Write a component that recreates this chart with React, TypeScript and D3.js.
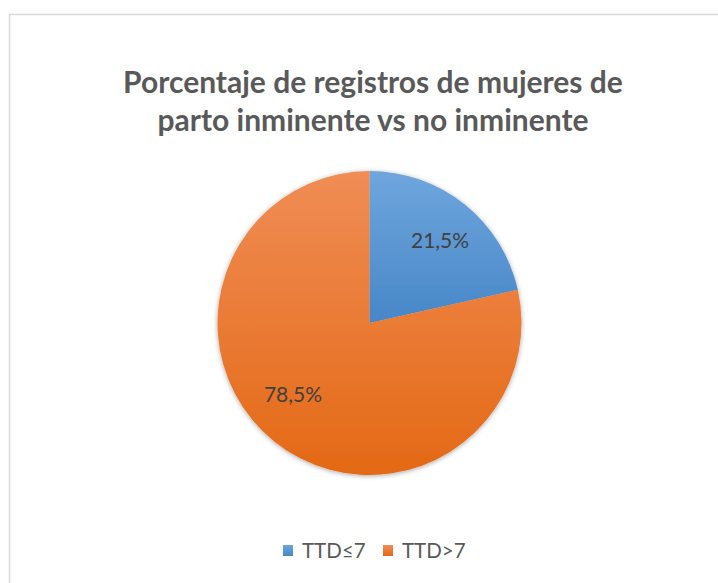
import React from "react";
import * as d3 from "d3";

const categories = ["TTD≤7", "TTD>7"];
const values = [21.5, 78.5];
const labels = ["21,5%", "78,5%"];
const colorsTop = ["#6fa6dd", "#f08d55"];
const colorsBottom = ["#4787c8", "#e46915"];
const titleLines = ["Porcentaje de registros de mujeres de", "parto inminente vs no inminente"];

export default function App() {
  const W = 718, H = 583;
  const cx = 369.5, cy = 323, r = 152;
  const pie = d3.pie<number>().sort(null).value((d) => d)(values);
  const arc = d3.arc<d3.PieArcDatum<number>>().innerRadius(0).outerRadius(r);
  const labelArc = d3.arc<d3.PieArcDatum<number>>().innerRadius(r * 1.4).outerRadius(0);
  const font = "Lato, 'Open Sans', sans-serif";
  const legendX = [283, 383];
  const labelOffsets = [[4, 3], [-10, -9]];
  return (
    <svg width={W} height={H} style={{ position: "absolute", left: 0, top: 0, background: "#fff" }}>
      <defs>
        {categories.map((c, i) => (
          <linearGradient key={c} id={`g${i}`} x1="0" y1="0" x2="0" y2="1">
            <stop offset="0" stopColor={colorsTop[i]} />
            <stop offset="1" stopColor={colorsBottom[i]} />
          </linearGradient>
        ))}
        <filter id="sh" x="-20%" y="-20%" width="140%" height="140%">
          <feGaussianBlur in="SourceAlpha" stdDeviation="2.5" />
          <feOffset dx="0" dy="1" result="b" />
          <feComponentTransfer><feFuncA type="linear" slope="0.35" /></feComponentTransfer>
          <feMerge><feMergeNode /><feMergeNode in="SourceGraphic" /></feMerge>
        </filter>
      </defs>
      <rect x={9.5} y={14.5} width={720} height={600} fill="#fff" stroke="#d9d9d9" strokeWidth={1.5} />
      {titleLines.map((t, i) => (
        <text key={i} x={373} y={93 + i * 38} textAnchor="middle" fontFamily={font} fontWeight="bold" fontSize={30} fill="#595959">{t}</text>
      ))}
      <g transform={`translate(${cx},${cy})`} filter="url(#sh)">
        {pie.map((p, i) => (
          <path key={i} d={arc(p) || ""} fill={`url(#g${i})`} />
        ))}
      </g>
      <g transform={`translate(${cx},${cy})`}>
        {pie.map((p, i) => {
          const [x, y] = labelArc.centroid(p);
          return (
            <text key={i} x={x + labelOffsets[i][0]} y={y + labelOffsets[i][1]} textAnchor="middle" dominantBaseline="middle" fontFamily={font} fontSize={21} fill="#404040">{labels[i]}</text>
          );
        })}
      </g>
      {categories.map((c, i) => (
        <g key={c}>
          <rect x={legendX[i]} y={545} width={10} height={11} fill={`url(#g${i})`} />
          <text x={legendX[i] + 19} y={557.5} fontFamily={font} fontSize={20.5} fill="#595959">{c}</text>
        </g>
      ))}
    </svg>
  );
}
